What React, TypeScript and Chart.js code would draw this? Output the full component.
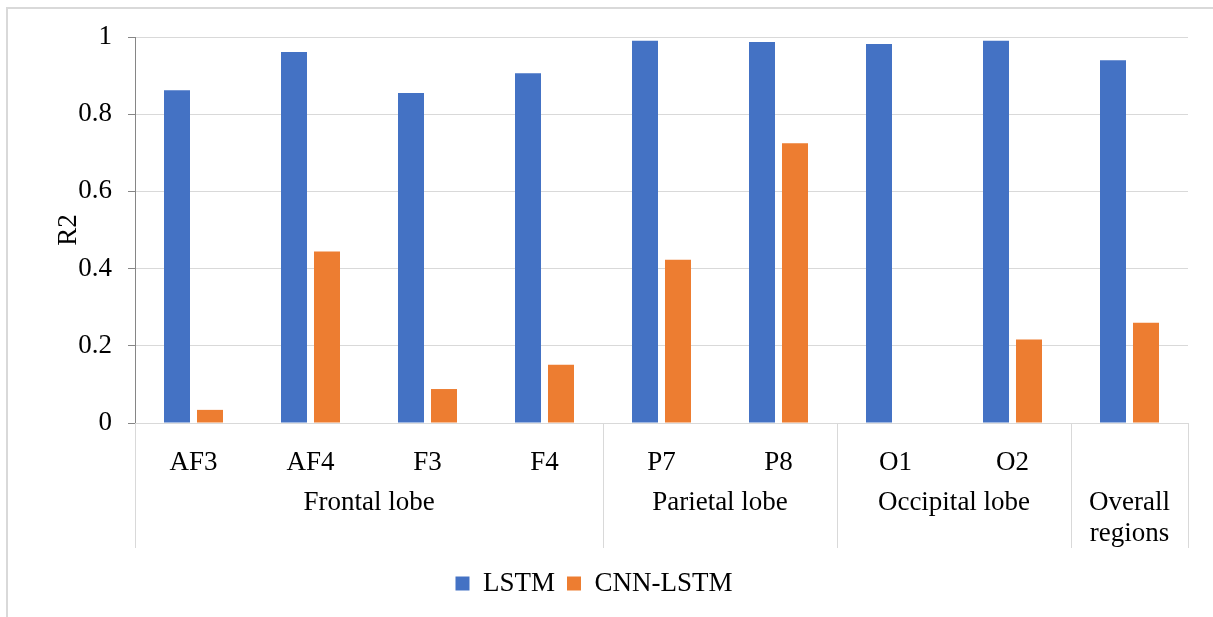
import React, { useEffect, useRef } from 'react';
import { Chart, registerables } from 'chart.js';

Chart.register(...registerables);

const channels: string[] = ['AF3', 'AF4', 'F3', 'F4', 'P7', 'P8', 'O1', 'O2', ''];
const groupLabels: (string | string[])[] = ['Frontal lobe', 'Parietal lobe', 'Occipital lobe', ['Overall', 'regions']];
const groupSpans: number[] = [4, 2, 2, 1];
const lstmValues: number[] = [0.862, 0.961, 0.855, 0.906, 0.99, 0.987, 0.982, 0.99, 0.94];
const cnnLstmValues: number[] = [0.034, 0.444, 0.088, 0.151, 0.423, 0.725, 0, 0.216, 0.26];
const seriesNames: string[] = ['LSTM', 'CNN-LSTM'];
const yAxisTitle = 'R2';

const FONT = "'Liberation Serif', 'Times New Roman', serif";
const FS = 27;
const LIGHT = '#d9d9d9';
const DARK = '#868686';
const AXIS_AREA_HEIGHT = 125;

const groupPlugin = {
  id: 'groupPlugin',
  beforeDraw(chart: any) {
    const ctx = chart.ctx;
    ctx.save();
    ctx.strokeStyle = LIGHT;
    ctx.lineWidth = 2;
    ctx.strokeRect(7, 8, 1400, 800);
    ctx.restore();
  },
  afterDraw(chart: any) {
    const ctx = chart.ctx;
    const xs = chart.scales.x;
    const { left, right, bottom } = chart.chartArea;
    const lineBottom = bottom + AXIS_AREA_HEIGHT;
    const n = channels.length;
    const boundary = (i: number) => {
      if (i <= 0) return left;
      if (i >= n) return right;
      return (xs.getPixelForValue(i - 1) + xs.getPixelForValue(i)) / 2;
    };
    ctx.save();
    ctx.strokeStyle = LIGHT;
    ctx.lineWidth = 1;
    let start = 0;
    const bounds: number[] = [0];
    groupSpans.forEach((s) => {
      start += s;
      bounds.push(start);
    });
    bounds.forEach((b) => {
      const px = Math.round(boundary(b)) + 0.5;
      ctx.beginPath();
      ctx.moveTo(px, bottom);
      ctx.lineTo(px, lineBottom);
      ctx.stroke();
    });
    ctx.fillStyle = '#000';
    ctx.font = `${FS}px ${FONT}`;
    ctx.textAlign = 'center';
    ctx.textBaseline = 'middle';
    groupLabels.forEach((lab, gi) => {
      const cx = (boundary(bounds[gi]) + boundary(bounds[gi + 1])) / 2;
      const lines = Array.isArray(lab) ? lab : [lab];
      lines.forEach((ln, li) => {
        ctx.fillText(ln, cx, bottom + 80 + li * 31);
      });
    });
    ctx.restore();
  },
};

export default function App() {
  const canvasRef = useRef<HTMLCanvasElement>(null);

  useEffect(() => {
    if (!canvasRef.current) return;
    const chart = new Chart(canvasRef.current, {
      type: 'bar',
      data: {
        labels: channels,
        datasets: [
          {
            label: seriesNames[0],
            data: lstmValues,
            backgroundColor: '#4472C4',
            categoryPercentage: 0.564,
            barPercentage: 0.788,
          },
          {
            label: seriesNames[1],
            data: cnnLstmValues,
            backgroundColor: '#ED7D31',
            categoryPercentage: 0.564,
            barPercentage: 0.788,
          },
        ],
      },
      options: {
        responsive: false,
        animation: false,
        layout: { padding: { top: 37, right: 25, bottom: 10, left: 0 } },
        plugins: {
          legend: {
            position: 'bottom',
            labels: {
              font: { family: FONT, size: FS },
              color: '#000',
              boxWidth: 14,
              boxHeight: 14,
              padding: 12,
            },
          },
          tooltip: { enabled: false },
        },
        scales: {
          x: {
            grid: { display: false },
            border: { color: LIGHT },
            ticks: {
              font: { family: FONT, size: FS },
              color: '#000',
              padding: 16,
              maxRotation: 0,
            },
            afterFit(scale: any) {
              scale.height = AXIS_AREA_HEIGHT + 10;
            },
          },
          y: {
            min: 0,
            max: 1,
            ticks: {
              stepSize: 0.2,
              font: { family: FONT, size: FS },
              color: '#000',
              padding: 16,
              callback: (v: any) => String(Math.round(Number(v) * 10) / 10),
            },
            grid: {
              color: LIGHT,
              tickColor: DARK,
              tickLength: 7,
              lineWidth: 1,
            },
            border: { color: DARK },
            title: {
              display: true,
              text: yAxisTitle,
              font: { family: FONT, size: FS },
              color: '#000',
              padding: { top: 53, bottom: 0 },
            },
            afterFit(scale: any) {
              scale.width = 135;
            },
          },
        },
      },
      plugins: [groupPlugin],
    } as any);
    return () => chart.destroy();
  }, []);

  return (
    <div style={{ position: 'absolute', left: 0, top: 0, width: 1213, height: 617, background: '#fff' }}>
      <canvas ref={canvasRef} width={1213} height={617} />
    </div>
  );
}
